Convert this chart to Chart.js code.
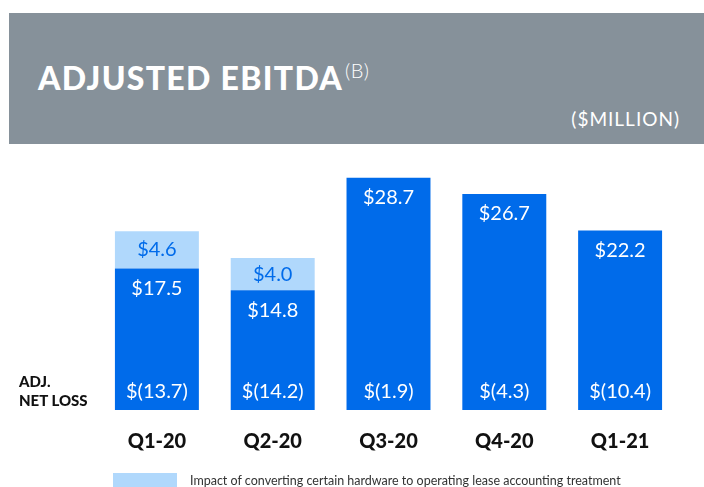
<!DOCTYPE html>
<html>
<head>
<meta charset="utf-8">
<script src="https://cdn.jsdelivr.net/npm/chart.js@4.4.1/dist/chart.umd.min.js"></script>
<style>
  html, body { margin: 0; padding: 0; background: #fff; }
  body { width: 704px; height: 487px; position: relative; overflow: hidden; font-family: Lato, "Open Sans", sans-serif; }
  #band { position: absolute; left: 9px; top: 13px; width: 695px; height: 131px; background: #86919a; }
  #title { position: absolute; left: 38px; top: 58px; color: #fff; font: 900 32px Lato, sans-serif; letter-spacing: 1.3px; white-space: nowrap; }
  #title sup { font-weight: 300; font-size: 20px; vertical-align: 12px; margin-left: 2px; letter-spacing: 0.5px; }
  #unit { position: absolute; right: 24px; top: 107px; color: #fff; font: 400 19px Lato, sans-serif; letter-spacing: 1px; }
  #netlabel { position: absolute; left: 19px; top: 372px; font: 900 15px/19px Lato, sans-serif; color: #111; }
  #legend { position: absolute; left: 113px; top: 473px; font: 400 12.5px Lato, sans-serif; color: #333; white-space: nowrap; }
  #legend span.sw { display: inline-block; width: 64px; height: 14px; background: rgb(176, 216, 252); vertical-align: top; margin-right: 13px; }
  #wrap { position: absolute; left: 0; top: 0; width: 704px; height: 487px; }
</style>
</head>
<body>
<div id="band"></div>
<div id="title">ADJUSTED EBITDA<sup>(B)</sup></div>
<div id="unit">($MILLION)</div>
<div id="wrap"><canvas id="ebitda-chart"></canvas></div>
<div id="netlabel">ADJ.<br>NET LOSS</div>
<div id="legend"><span class="sw"></span>Impact of converting certain hardware to operating lease accounting treatment</div>
<script>
const quarters = ['Q1-20', 'Q2-20', 'Q3-20', 'Q4-20', 'Q1-21'];
const adjEbitda = [17.5, 14.8, 28.7, 26.7, 22.2];
const leaseImpact = [4.6, 4.0, null, null, null];
const adjNetLoss = [-13.7, -14.2, -1.9, -4.3, -10.4];

const darkBlue = 'rgb(0, 107, 234)';
const lightBlue = 'rgb(176, 216, 252)';

// draws the $ values inside the bars
const valueLabels = {
    id: 'valueLabels',
    afterDatasetsDraw(chart) {
        const ctx = chart.ctx;
        ctx.save();
        ctx.font = '400 20px Lato, sans-serif';
        ctx.textAlign = 'center';
        ctx.textBaseline = 'middle';
        chart.getDatasetMeta(0).data.forEach(function (bar, i) {
            ctx.fillStyle = '#fff';
            ctx.fillText('$' + adjEbitda[i].toFixed(1), bar.x, bar.y + 20);
            ctx.fillText('$(' + Math.abs(adjNetLoss[i]).toFixed(1) + ')', bar.x, bar.base - 18);
        });
        chart.getDatasetMeta(1).data.forEach(function (bar, i) {
            if (leaseImpact[i] == null) return;
            ctx.fillStyle = darkBlue;
            ctx.fillText('$' + leaseImpact[i].toFixed(1), bar.x, (bar.y + bar.base) / 2);
        });
        ctx.restore();
    }
};

const ctx = document.getElementById('ebitda-chart').getContext('2d');
const chart = new Chart(ctx, {
    type: 'bar',
    data: {
        labels: quarters,
        datasets: [{
            label: 'Adjusted EBITDA',
            data: adjEbitda,
            backgroundColor: darkBlue,
            borderWidth: 0
        }, {
            label: 'Impact of converting certain hardware to operating lease accounting treatment',
            data: leaseImpact,
            backgroundColor: lightBlue,
            borderWidth: 0
        }]
    },
    options: {
        responsive: true,
        maintainAspectRatio: false,
        animation: false,
        layout: { padding: { left: 99, right: 26, top: 160, bottom: 13 } },
        datasets: { bar: { categoryPercentage: 1, barPercentage: 0.725 } },
        plugins: { legend: { display: false }, tooltip: { enabled: false } },
        scales: {
            x: {
                stacked: true,
                grid: { display: false, drawTicks: false },
                border: { display: false },
                ticks: { color: '#111', font: { family: 'Lato', weight: '900', size: 20 }, padding: 20 }
            },
            y: {
                stacked: true,
                display: false,
                min: 0,
                max: 30.9
            }
        }
    },
    plugins: [valueLabels]
});
</script>
</body>
</html>
